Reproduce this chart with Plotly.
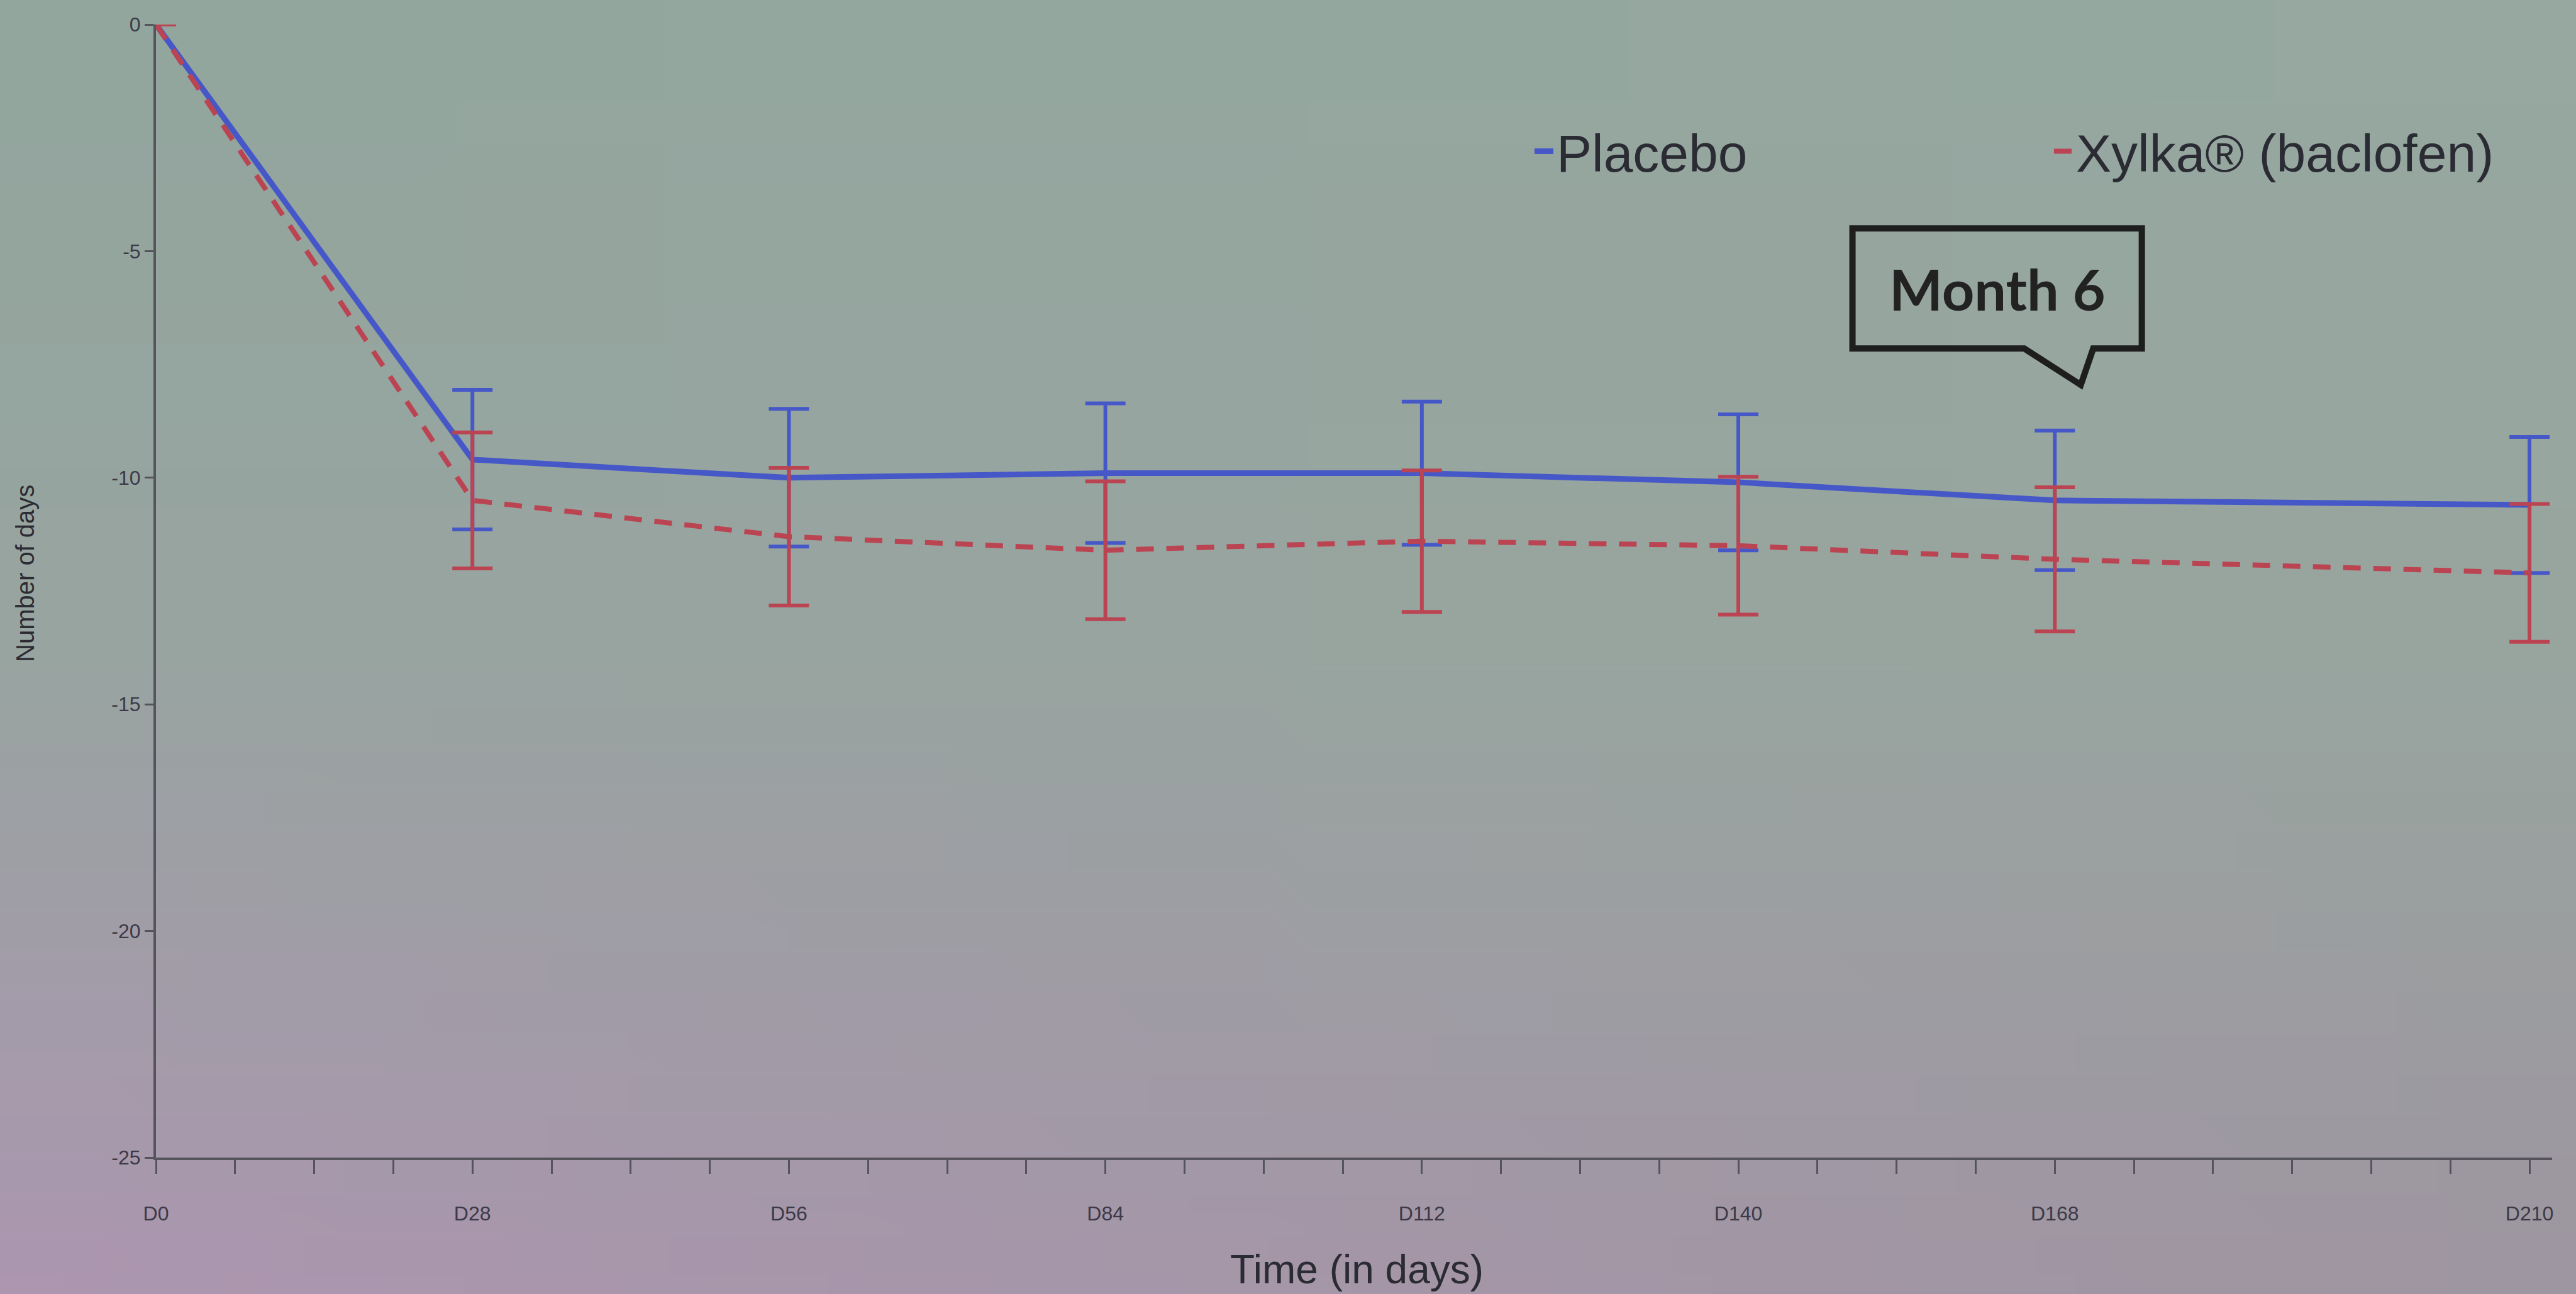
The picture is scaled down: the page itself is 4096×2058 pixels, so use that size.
import base64
import struct
import zlib

import plotly.graph_objects as go

# ---- data ----
days = [0, 28, 56, 84, 112, 140, 168, 210]
tick_labels = ["D0", "D28", "D56", "D84", "D112", "D140", "D168", "D210"]
minor_days = list(range(0, 211, 7))
y_ticks = [0, -5, -10, -15, -20, -25]

placebo_mean = [0, -9.6, -10.0, -9.9, -9.9, -10.1, -10.5, -10.6]
placebo_err = [0, 1.54, 1.52, 1.54, 1.58, 1.50, 1.54, 1.50]
xylka_mean = [0, -10.5, -11.3, -11.6, -11.4, -11.5, -11.8, -12.1]
xylka_err = [0, 1.50, 1.52, 1.52, 1.56, 1.52, 1.59, 1.52]

series_names = ["Placebo", "Xylka\u00ae (baclofen)"]
callout_text = "Month 6"
callout_day = 168

# ---- styling ----
W, H = 4096, 2058
L, R, T, B = 248, 38, 39, 217
PW, PH = W - L - R, H - T - B
BLUE = "#4658c8"
RED = "#bb4452"
TXT = "#2b2b33"
AX = "#55545c"
FONT = "Liberation Sans, Arial, sans-serif"


def lerp(a, b, t):
    return tuple(int(round(a[i] + (b[i] - a[i]) * t)) for i in range(3))


def background_png(w=64, h=32):
    top_l, top_r = (146, 166, 157), (150, 168, 160)
    mid_l, mid_r = (152, 164, 160), (152, 165, 159)
    bot_l, bot_r = (172, 150, 176), (158, 150, 160)
    rows = []
    for yy in range(h):
        t = yy / (h - 1)
        if t < 0.5:
            cl, cr = lerp(top_l, mid_l, t / 0.5), lerp(top_r, mid_r, t / 0.5)
        else:
            cl, cr = lerp(mid_l, bot_l, (t - 0.5) / 0.5), lerp(mid_r, bot_r, (t - 0.5) / 0.5)
        row = bytearray(b"\x00")
        for xx in range(w):
            row += bytes(lerp(cl, cr, xx / (w - 1)))
        rows.append(bytes(row))
    raw = b"".join(rows)

    def chunk(tag, data):
        return (struct.pack(">I", len(data)) + tag + data
                + struct.pack(">I", zlib.crc32(tag + data) & 0xFFFFFFFF))

    png = (b"\x89PNG\r\n\x1a\n"
           + chunk(b"IHDR", struct.pack(">IIBBBBB", w, h, 8, 2, 0, 0, 0))
           + chunk(b"IDAT", zlib.compress(raw))
           + chunk(b"IEND", b""))
    return "data:image/png;base64," + base64.b64encode(png).decode()


fig = go.Figure()
fig.add_trace(go.Scatter(
    x=days, y=placebo_mean, name=series_names[0], mode="lines",
    line=dict(color=BLUE, width=9),
    error_y=dict(type="data", array=placebo_err, visible=True,
                 color=BLUE, thickness=6, width=32),
    cliponaxis=False,
))
fig.add_trace(go.Scatter(
    x=days, y=xylka_mean, name=series_names[1], mode="lines",
    line=dict(color=RED, width=8, dash="28px,20px"),
    error_y=dict(type="data", array=xylka_err, visible=True,
                 color=RED, thickness=6, width=32),
    cliponaxis=False,
))

# speech-bubble callout anchored on the Month 6 time point
ax = callout_day
x_l, x_r = ax - 17.9, ax + 7.7
t_l, t_r, tip_x = ax - 2.7, ax + 3.4, ax + 2.3
y_top, y_bot, tip_y = -4.5, -7.15, -7.95
path = (f"M {x_l},{y_top} L {x_r},{y_top} L {x_r},{y_bot} L {t_r},{y_bot} "
        f"L {tip_x},{tip_y} L {t_l},{y_bot} L {x_l},{y_bot} Z")
fig.add_shape(type="path", path=path, xref="x", yref="y",
              line=dict(color="#1e1e1e", width=10), fillcolor="rgba(0,0,0,0)")
fig.add_annotation(x=ax - 5.1, y=(y_top + y_bot) / 2, xref="x", yref="y",
                   text=f"<b>{callout_text}</b>", showarrow=False,
                   font=dict(family="Lato, Liberation Sans, sans-serif", size=90, color="#222"),
                   xanchor="center", yanchor="middle")

# x-axis title
fig.add_annotation(x=(2157 - L) / PW, y=-(2019 - (T + PH)) / PH, xref="paper", yref="paper",
                   text="Time (in days)", showarrow=False,
                   font=dict(family=FONT, size=64, color=TXT),
                   xanchor="center", yanchor="middle")
# y-axis title
fig.add_annotation(x=(40 - L) / PW, y=1 - (912 - T) / PH, xref="paper", yref="paper",
                   text="Number of days", showarrow=False, textangle=-90,
                   font=dict(family=FONT, size=40, color=TXT),
                   xanchor="center", yanchor="middle")

fig.add_layout_image(
    source=background_png(), xref="paper", yref="paper",
    x=-L / PW, y=1 + T / PH, sizex=W / PW, sizey=H / PH,
    xanchor="left", yanchor="top", sizing="stretch", layer="below",
)

fig.update_layout(
    width=W, height=H,
    margin=dict(l=L, r=R, t=T, b=B, autoexpand=False),
    paper_bgcolor="rgb(152,160,158)", plot_bgcolor="rgba(0,0,0,0)",
    font=dict(family=FONT, color=TXT),
    showlegend=True,
    legend=dict(orientation="h", x=0.574, xanchor="left", y=0.888, yanchor="middle",
                font=dict(family=FONT, size=84, color=TXT),
                bgcolor="rgba(0,0,0,0)", entrywidth=781, entrywidthmode="pixels",
                itemwidth=30),
    xaxis=dict(range=[0, 212], tickmode="array", tickvals=days, ticktext=tick_labels,
               showgrid=False, zeroline=False, showline=True, linecolor=AX, linewidth=4,
               ticks="outside", ticklen=22, tickwidth=3, tickcolor=AX,
               tickfont=dict(size=32, color="#3c3a48"), ticklabelstandoff=36,
               minor=dict(tickmode="array", tickvals=minor_days, ticks="outside",
                          ticklen=22, tickwidth=3, tickcolor=AX)),
    yaxis=dict(range=[-25, 0], tickmode="array", tickvals=y_ticks,
               ticktext=[str(v) for v in y_ticks],
               showgrid=False, zeroline=False, showline=True, linecolor=AX, linewidth=4,
               ticks="outside", ticklen=14, tickwidth=3, tickcolor=AX,
               tickfont=dict(size=32, color="#3c3a48")),
)

fig.write_html("out.html", config={"displayModeBar": False},
               post_script="document.body.style.margin='0';")
